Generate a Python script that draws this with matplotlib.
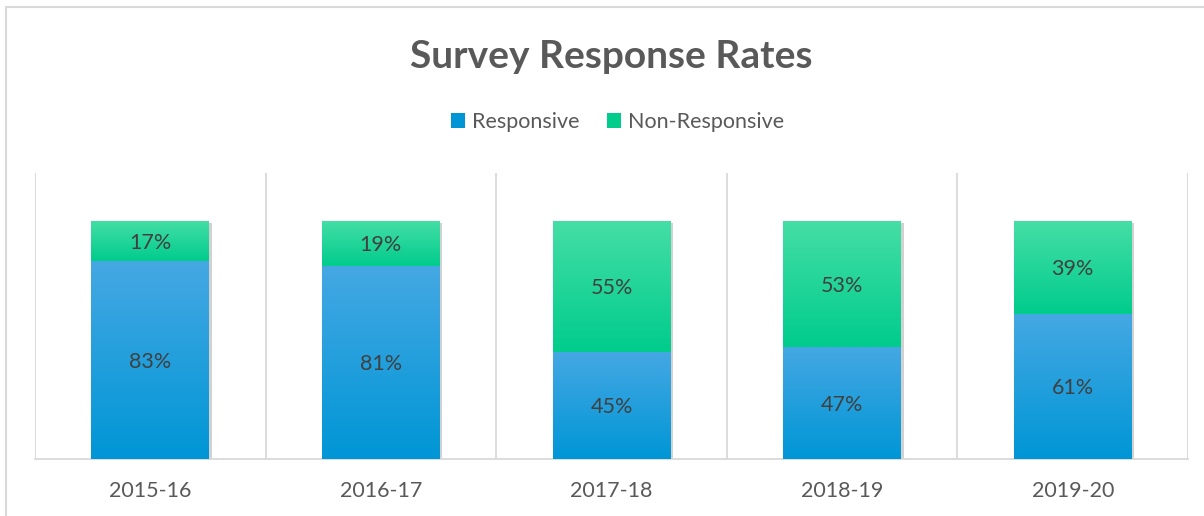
import matplotlib.pyplot as plt
import numpy as np
from matplotlib.colors import LinearSegmentedColormap
from matplotlib.patches import Patch, Rectangle
from matplotlib import patheffects as pe

plt.rcParams['font.family'] = ['Lato', 'DejaVu Sans']

years = ['2015-16', '2016-17', '2017-18', '2018-19', '2019-20']
responsive = [83, 81, 45, 47, 61]
non_responsive = [17, 19, 55, 53, 39]

blue_top, blue_bot = '#45A8E3', '#0096D6'
green_top, green_bot = '#45DEA6', '#00CC8C'
grid_col = '#D9D9D9'
txt_col = '#595959'


def fill_gradient(ax, bars, top, bottom):
    # vertical gradient clipped to each bar rectangle
    cmap = LinearSegmentedColormap.from_list('g', [bottom, top])
    grad = np.linspace(0, 1, 256).reshape(-1, 1)
    for b in bars:
        x0, y0 = b.get_x(), b.get_y()
        w, h = b.get_width(), b.get_height()
        im = ax.imshow(grad, cmap=cmap, origin='lower', aspect='auto',
                       extent=(x0, x0 + w, y0, y0 + h), zorder=3)
        im.set_clip_path(b)


fig = plt.figure(figsize=(12.04, 5.16), dpi=100)
ax = fig.add_axes([35 / 1204, 1 - 459 / 516, (1188 - 35) / 1204, (459 - 173) / 516])

x = np.arange(len(years))
w = 0.51
shadow = [pe.SimplePatchShadow(offset=(2, -2), shadow_rgbFace='#000000', alpha=0.18), pe.Normal()]
b1 = ax.bar(x, responsive, w, color=blue_bot, zorder=2, path_effects=shadow)
b2 = ax.bar(x, non_responsive, w, bottom=responsive, color=green_bot, zorder=2, path_effects=shadow)
fill_gradient(ax, b1, blue_top, blue_bot)
fill_gradient(ax, b2, green_top, green_bot)

for bars in (b1, b2):
    for b in bars:
        ax.text(b.get_x() + b.get_width() / 2, b.get_y() + b.get_height() / 2 - 0.8,
                f'{b.get_height():.0f}%', ha='center', va='center',
                fontsize=15.5, color='#404040', zorder=5)

ax.set_xlim(-0.5, len(years) - 0.5)
ax.set_ylim(0, 120)
for i in range(len(years) + 1):
    ax.axvline(i - 0.5, color=grid_col, lw=1.3, zorder=1)

for s in ['top', 'right', 'left']:
    ax.spines[s].set_visible(False)
ax.spines['bottom'].set_color(grid_col)
ax.spines['bottom'].set_linewidth(1.3)
ax.set_yticks([])
ax.set_xticks(x)
ax.set_xticklabels(years, fontsize=15.5, color=txt_col)
ax.tick_params(axis='x', length=0, pad=16)

fig.text(0.508, 1 - 56 / 516, 'Survey Response Rates', ha='center', va='center',
         fontsize=28, fontweight='bold', color=txt_col)

handles = [Patch(facecolor=blue_bot, label='Responsive'),
           Patch(facecolor=green_bot, label='Non-Responsive')]
fig.legend(handles=handles, loc='center', bbox_to_anchor=(0.513, 1 - 122 / 516), ncol=2,
           frameon=False, fontsize=15.5, labelcolor=txt_col, handlelength=0.65,
           handleheight=0.65, handletextpad=0.3, columnspacing=1.3)

fig.patches.append(Rectangle((6 / 1204, -0.1), 1.2, 1.1 - 7 / 516, transform=fig.transFigure,
                             fill=False, edgecolor=grid_col, lw=1.5))

fig.savefig('out.png', dpi=100)
